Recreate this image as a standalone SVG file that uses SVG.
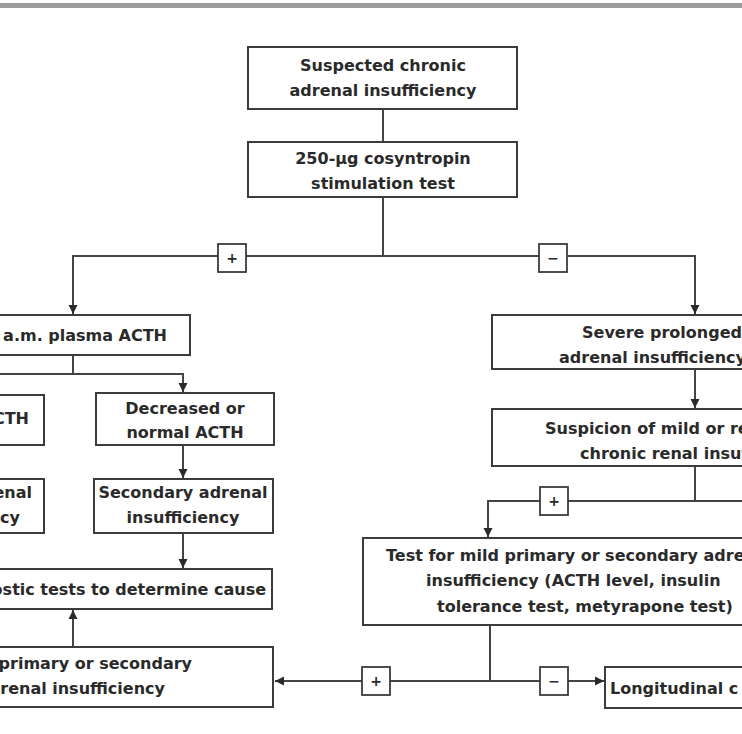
<svg xmlns="http://www.w3.org/2000/svg" width="742" height="734" viewBox="0 0 742 734">
<defs>
<style>
.box{fill:#fff;stroke:#3c3c3c;stroke-width:2}
.sgn{fill:#fff;stroke:#3c3c3c;stroke-width:1.8}
.ln{fill:none;stroke:#444;stroke-width:2}
text{font-family:"DejaVu Sans","Liberation Sans",sans-serif;font-weight:bold;font-size:16px;fill:#2a2a2a}
.m{text-anchor:middle}
.e{text-anchor:end}
.s{text-anchor:start}
.sg{font-size:14px;text-anchor:middle}
</style>
<marker id="ah" viewBox="0 0 10 10" refX="10" refY="5" markerWidth="9" markerHeight="10" markerUnits="userSpaceOnUse" orient="auto">
<path d="M0,0 L10,5 L0,10 z" fill="#2a2a2a"/>
</marker>
</defs>
<rect x="0" y="0" width="742" height="734" fill="#fff"/>
<rect x="0" y="3" width="742" height="5" fill="#9c9c9c"/>

<g id="connectors">
<path class="ln" d="M383,109 V142"/>
<path class="ln" d="M383,197 V256"/>
<path class="ln" d="M695,256 H73 V314" marker-end="url(#ah)"/>
<path class="ln" d="M383,256 H695 V314" marker-end="url(#ah)"/>
<path class="ln" d="M73,355 V374"/>
<path class="ln" d="M0,374 H183 V392" marker-end="url(#ah)"/>
<path class="ln" d="M183,445 V478" marker-end="url(#ah)"/>
<path class="ln" d="M183,533 V568" marker-end="url(#ah)"/>
<path class="ln" d="M73,647 V610" marker-end="url(#ah)"/>
<path class="ln" d="M695,369 V408" marker-end="url(#ah)"/>
<path class="ln" d="M695,466 V501"/>
<path class="ln" d="M742,501 H488 V537" marker-end="url(#ah)"/>
<path class="ln" d="M490,625 V681"/>
<path class="ln" d="M490,681 H275" marker-end="url(#ah)"/>
<path class="ln" d="M490,681 H604" marker-end="url(#ah)"/>
<rect class="sgn" x="218" y="244" width="28" height="28"/>
<text class="sg" x="232" y="263">+</text>
<rect class="sgn" x="539" y="244" width="28" height="28"/>
<text class="sg" x="553" y="263">−</text>
<rect class="sgn" x="540" y="487" width="28" height="28"/>
<text class="sg" x="554" y="506">+</text>
<rect class="sgn" x="362" y="667" width="28" height="28"/>
<text class="sg" x="376" y="686">+</text>
<rect class="sgn" x="540" y="667" width="28" height="28"/>
<text class="sg" x="554" y="686">−</text>
</g>

<g id="suspected">
<rect class="box" x="248" y="47" width="269" height="62"/>
<text class="m" x="383" y="71">Suspected chronic</text>
<text class="m" x="383" y="96">adrenal insufficiency</text>
</g>
<g id="cosyntropin">
<rect class="box" x="248" y="142" width="269" height="55"/>
<text class="m" x="383" y="164">250-μg cosyntropin</text>
<text class="m" x="383" y="189">stimulation test</text>
</g>
<g id="acth">
<rect class="box" x="-10" y="315" width="200" height="40"/>
<text class="e" x="167" y="341">a.m. plasma ACTH</text>
</g>
<g id="increased">
<rect class="box" x="-10" y="395" width="54" height="50"/>
<text class="e" x="29" y="424">CTH</text>
</g>
<g id="decreased">
<rect class="box" x="96" y="393" width="178" height="52"/>
<text class="m" x="185" y="414">Decreased or</text>
<text class="m" x="185" y="438">normal ACTH</text>
</g>
<g id="primary">
<rect class="box" x="-10" y="479" width="54" height="54"/>
<text class="e" x="32" y="498">enal</text>
<text class="e" x="20" y="523">cy</text>
</g>
<g id="secondary">
<rect class="box" x="94" y="479" width="179" height="54"/>
<text class="m" x="183" y="498">Secondary adrenal</text>
<text class="m" x="183" y="523">insufficiency</text>
</g>
<g id="diagnostic">
<rect class="box" x="-10" y="569" width="282" height="40"/>
<text class="e" x="266" y="595">nostic tests to determine cause</text>
</g>
<g id="mild-dx">
<rect class="box" x="-10" y="647" width="283" height="60"/>
<text class="e" x="192" y="669">primary or secondary</text>
<text class="e" x="165" y="694">renal insufficiency</text>
</g>
<g id="severe">
<rect class="box" x="492" y="315" width="270" height="54"/>
<text class="s" x="582" y="338">Severe prolonged</text>
<text class="s" x="559" y="363">adrenal insufficiency</text>
</g>
<g id="suspicion">
<rect class="box" x="492" y="409" width="270" height="57"/>
<text class="s" x="545" y="434">Suspicion of mild or re</text>
<text class="s" x="580" y="459">chronic renal insuf</text>
</g>
<g id="test-mild">
<rect class="box" x="363" y="538" width="400" height="87"/>
<text class="s" x="386" y="561">Test for mild primary or secondary adrenal</text>
<text class="s" x="426" y="586">insufficiency (ACTH level, insulin</text>
<text class="s" x="437" y="612">tolerance test, metyrapone test)</text>
</g>
<g id="longitudinal">
<rect class="box" x="605" y="667" width="160" height="41"/>
<text class="s" x="610" y="694">Longitudinal c</text>
</g>
</svg>
